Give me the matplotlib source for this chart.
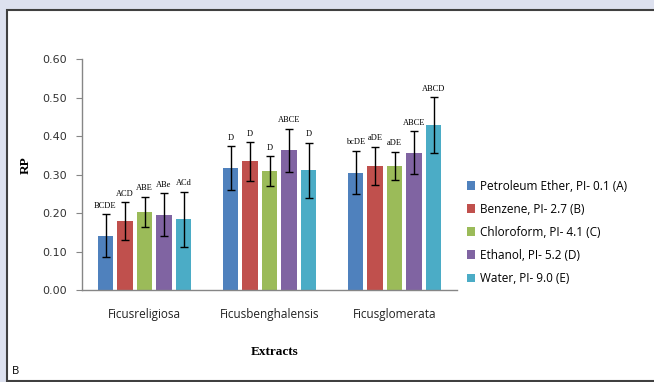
import matplotlib.pyplot as plt
import numpy as np
from matplotlib.patches import Patch, Rectangle

# Relative potency (RP) per extract and solvent
plants = ["Ficusreligiosa", "Ficusbenghalensis", "Ficusglomerata"]
solvents = [
    "Petroleum Ether, PI- 0.1 (A)",
    "Benzene, PI- 2.7 (B)",
    "Chloroform, PI- 4.1 (C)",
    "Ethanol, PI- 5.2 (D)",
    "Water, PI- 9.0 (E)",
]
colors = ["#4F81BD", "#C0504D", "#9BBB59", "#8064A2", "#4BACC6"]

rp_values = [
    [0.141, 0.316, 0.305],  # petroleum ether
    [0.179, 0.334, 0.322],  # benzene
    [0.203, 0.308, 0.322],  # chloroform
    [0.196, 0.363, 0.357],  # ethanol
    [0.184, 0.311, 0.429],  # water
]
rp_errors = [
    [0.056, 0.057, 0.056],
    [0.049, 0.050, 0.050],
    [0.039, 0.039, 0.037],
    [0.055, 0.056, 0.055],
    [0.071, 0.071, 0.072],
]
sig_labels = [
    ["BCDE", "D", "bcDE"],
    ["ACD", "D", "aDE"],
    ["ABE", "D", "aDE"],
    ["ABe", "ABCE", "ABCE"],
    ["ACd", "D", "ABCD"],
]

fig = plt.figure(figsize=(6.54, 3.82), dpi=100)
fig.patch.set_facecolor("#dde1ef")
# white panel with a dark frame, kept behind the axes
fig.patches.append(Rectangle((7, 1), 660, 371, transform=None, facecolor="white",
                             edgecolor="#404040", linewidth=1.5, zorder=-5))

ax = fig.add_axes([0.1254, 0.2408, 0.5734, 0.6047])
ax.set_zorder(2)
ax.patch.set_alpha(0)
x = np.arange(len(plants))
step = 0.156
width = 0.125
for i, (vals, errs) in enumerate(zip(rp_values, rp_errors)):
    pos = x + (i - 2) * step
    ax.bar(pos, vals, width, color=colors[i], yerr=errs, capsize=3,
           error_kw=dict(ecolor="black", elinewidth=1.0, capthick=1.0))
    for px, v, e, lab in zip(pos, vals, errs, sig_labels[i]):
        ax.text(px, v + e + 0.012, lab, ha="center", va="bottom",
                fontsize=6, family="Liberation Serif")

ax.set_xlim(-0.5, 2.5)
ax.set_ylim(0, 0.6)
ax.set_yticks(np.arange(0, 0.61, 0.1))
ax.set_yticklabels([f"{t:.2f}" for t in np.arange(0, 0.61, 0.1)],
                   fontsize=8, family="DejaVu Sans", color="#333333")
ax.set_xticks(x)
ax.set_xticklabels(plants, fontsize=8.5, family="Open Sans", color="#222222")
ax.tick_params(axis="x", length=0, pad=13)
ax.tick_params(axis="y", length=4, pad=7, color="#868686")
for side in ["top", "right"]:
    ax.spines[side].set_visible(False)
for side in ["left", "bottom"]:
    ax.spines[side].set_color("#868686")
    ax.spines[side].set_linewidth(1.0)

ax.set_ylabel("RP", fontsize=9.5, fontweight="bold", family="Liberation Serif")
ax.yaxis.set_label_coords(-0.135, 0.54)
fig.text(275 / 654, 1 - 352 / 382, "Extracts", ha="center", va="center",
         fontsize=9.5, fontweight="bold", family="Liberation Serif")
fig.text(12 / 654, 1 - 372 / 382, "B", ha="left", va="center",
         fontsize=8, family="Open Sans")

handles = [Patch(facecolor=c, edgecolor="none") for c in colors]
fig.legend(handles, solvents, loc="upper left", bbox_to_anchor=(456 / 654, 1 - 169 / 382),
           frameon=False, handlelength=0.7, handleheight=0.7, handletextpad=0.4,
           labelspacing=0.85, prop={"family": "Open Sans", "size": 8.5})

fig.savefig("out.png", dpi=100, facecolor=fig.get_facecolor())
